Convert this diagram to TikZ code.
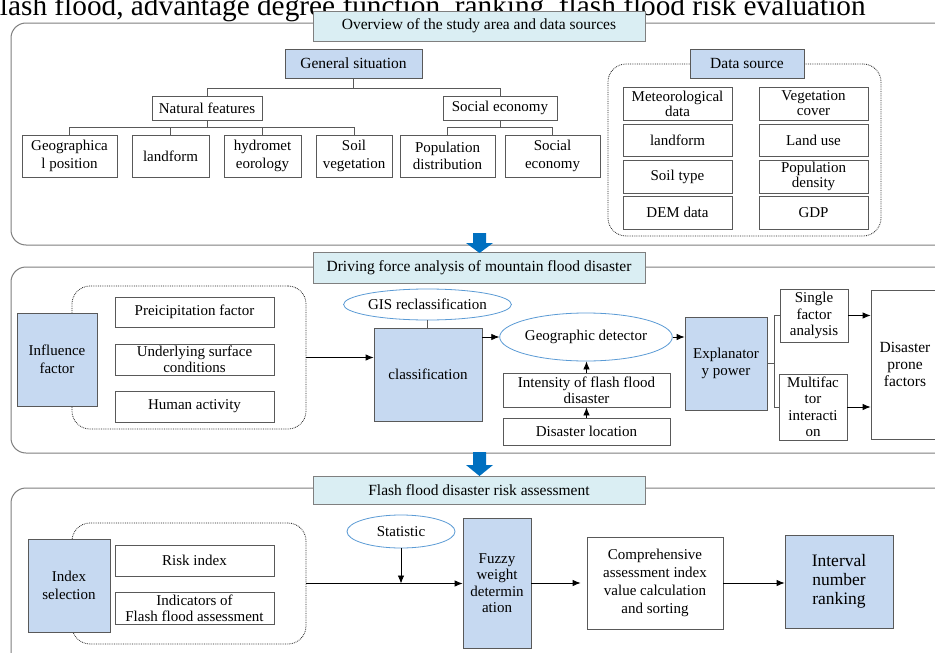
\documentclass[tikz,border=0pt]{standalone}
\usepackage{fontspec}
\setmainfont{Liberation Serif}
\usetikzlibrary{shapes.geometric,arrows.meta,calc}
\definecolor{titlefill}{HTML}{DAEEF3}
\definecolor{bluefill}{HTML}{C6D9F1}
\definecolor{edge}{HTML}{595959}
\definecolor{secedge}{HTML}{7F7F7F}
\definecolor{ellipseedge}{HTML}{5B9BD5}
\definecolor{bigarrow}{HTML}{0070C0}
\begin{document}
\begin{tikzpicture}[x=1pt,y=-1pt,
  box/.style={draw=edge, line width=0.8pt, fill=white, align=center, inner sep=1pt, font=\fontsize{15}{17.5}\selectfont},
  dbox/.style={box, font=\fontsize{15}{15}\selectfont, minimum width=109},
  bbox/.style={box, fill=bluefill},
  tbox/.style={box, fill=titlefill, draw=secedge, minimum width=332, font=\fontsize{15.5}{18}\selectfont},
  ebox/.style={ellipse, draw=ellipseedge, line width=0.8pt, fill=white, inner sep=0pt, align=center, font=\fontsize{15}{17.5}\selectfont},
  dotbox/.style={draw=black!85, densely dotted, line width=0.8pt, rounded corners=18pt, inner sep=0pt},
  section/.style={draw=secedge, line width=1pt, rounded corners=15pt},
  arr/.style={draw=black, -{Latex[length=8pt,width=6.5pt]}, line width=0.8pt},
  link/.style={draw=edge, line width=0.8pt}
]
\useasboundingbox (0,0) rectangle (935,653);
\clip (0,0) rectangle (935,653);
\fill[white] (0,0) rectangle (935,653);

% cut-off heading
\node[anchor=base west, font=\fontsize{29.3}{31}\selectfont, inner sep=0pt] (ttl) at (-10,15.5) {flash flood, advantage degree function, ranking, flash flood risk evaluation};

% ---------------- Section 1
\draw[section] (11,23) rectangle (950,245);
\node[tbox, minimum height=30] (t1) at (479,26) {Overview of the study area and data sources};
\node[bbox, minimum width=137, minimum height=29, font=\fontsize{15.5}{18}\selectfont] (gs) at (353.5,63.5) {General situation};
\node[box, minimum width=110, minimum height=24] (nf) at (207,108) {Natural features};
\node[box, minimum width=114, minimum height=24] (se) at (500,108) {Social economy};
\node[box, minimum width=95, minimum height=42] (g1) at (69.5,156) {Geographica\\l position};
\node[box, minimum width=77, minimum height=42] (g2) at (170.5,156) {landform};
\node[box, minimum width=77, minimum height=42] (g3) at (262.5,156) {hydromet\\eorology};
\node[box, minimum width=76, minimum height=42] (g4) at (354,156) {Soil\\vegetation};
\node[box, minimum width=95, minimum height=42] (s1) at (447.5,156) {Population\\distribution};
\node[box, minimum width=95, minimum height=42] (s2) at (552.5,156) {Social\\economy};

\coordinate (gsj) at ($(gs.south)+(0,10)$);
\draw[link] (gs.south) -- (gsj);
\draw[link] (nf.north) |- (gsj) -| (se.north);
\coordinate (nfj) at ($(nf.south)+(0,7)$);
\draw[link] (nf.south) -- (nfj);
\draw[link] (g1.north) |- (nfj) -| (g4.north);
\draw[link] (g2.north) -- (g2.north |- nfj);
\draw[link] (g3.north) -- (g3.north |- nfj);
\coordinate (sej) at ($(se.south)+(0,7)$);
\draw[link] (se.south) -- (sej);
\draw[link] (s1.north) |- (sej) -| (s2.north);

\node[dotbox, minimum width=273, minimum height=172] (dz1) at (744.5,150) {};
\node[bbox, minimum width=114, minimum height=29, font=\fontsize{15.5}{18}\selectfont] (ds) at (747,63.5) {Data source};
\node[dbox, minimum height=33] (d1) at (677.5,103.5) {Meteorological\\data};
\node[dbox, minimum height=32] (d2) at (677.5,140) {landform};
\node[dbox, minimum height=33] (d3) at (677.5,176.5) {Soil type};
\node[dbox, minimum height=33] (d4) at (677.5,212.5) {DEM data};
\node[dbox, minimum height=33] (d5) at (813.5,103.5) {Vegetation\\cover};
\node[dbox, minimum height=32] (d6) at (813.5,140) {Land use};
\node[dbox, minimum height=33] (d7) at (813.5,176.5) {Population\\density};
\node[dbox, minimum height=33] (d8) at (813.5,212.5) {GDP};

% ---------------- Section 2
\draw[section] (11,267) rectangle (950,453);
\node[tbox, minimum height=31] (t2) at (479,267.5) {Driving force analysis of mountain flood disaster};
\node[dotbox, minimum width=234, minimum height=143] (dz2) at (189,357.5) {};
\node[bbox, minimum width=80, minimum height=93] (inf) at (57,359.5) {Influence\\factor};
\node[box, minimum width=159, minimum height=30] (p1) at (194.5,312) {Preicipitation factor};
\node[box, minimum width=159, minimum height=31, font=\fontsize{15}{16}\selectfont] (p2) at (194.5,359.5) {Underlying surface\\conditions};
\node[box, minimum width=159, minimum height=31] (p3) at (194.5,406.5) {Human activity};
\node[bbox, minimum width=108, minimum height=93] (cls) at (428,374.5) {classification};
\node[ebox, minimum width=157, minimum height=31] (gis) at (427.5,304.5) {GIS reclassification};
\node[ebox, minimum width=160, minimum height=48] (geo) at (586,337) {Geographic detector};
\node[box, minimum width=167, minimum height=34, font=\fontsize{15}{16}\selectfont] (int) at (586.5,390) {Intensity of flash flood\\disaster};
\node[box, minimum width=167, minimum height=27] (loc) at (586.5,431.5) {Disaster location};
\node[bbox, minimum width=82, minimum height=93] (exp) at (726,363.5) {Explanator\\y power};
\node[box, minimum width=68, minimum height=53, font=\fontsize{15}{16.5}\selectfont] (sfa) at (814,315.5) {Single\\factor\\analysis};
\node[box, minimum width=68, minimum height=66, font=\fontsize{15}{16.5}\selectfont] (mfi) at (813,407) {Multifac\\tor\\interacti\\on};
\node[box, minimum width=68, minimum height=149, font=\fontsize{15.5}{17}\selectfont] (dpf) at (905,364.5) {Disaster\\prone\\factors};

\draw[arr] (dz2.east) -- (dz2.east -| cls.west);
\draw[link] (gis.south) -- (gis.south |- cls.north);
\draw[arr] (cls.east |- geo.west) -- (geo.west);
\draw[arr] (loc.north) -- (int.south);
\draw[arr] (int.north) -- (int.north |- geo.south);
\draw[arr] (geo.east) -- (geo.east -| exp.west);
\coordinate (bx) at (774,363.5);
\draw[link] (exp.east) -- (bx);
\draw[link] (sfa.west) -| (bx |- mfi.west) -- (mfi.west);
\draw[arr] (sfa.east) -- (sfa.east -| dpf.west);
\draw[arr] (mfi.east) -- (mfi.east -| dpf.west);

% ---------------- Section 3
\draw[section] (11,488) rectangle (950,680);
\node[tbox, minimum height=28] (t3) at (479,490) {Flash flood disaster risk assessment};
\node[dotbox, minimum width=234, minimum height=121] (dz3) at (189,583.5) {};
\node[bbox, minimum width=82, minimum height=93] (idx) at (69,585.5) {Index\\selection};
\node[box, minimum width=159, minimum height=31] (ri) at (194.5,560.5) {Risk index};
\node[box, minimum width=159, minimum height=32, font=\fontsize{15}{16}\selectfont] (ind) at (194.5,608) {Indicators of\\Flash flood assessment};
\node[ebox, minimum width=108, minimum height=33] (stat) at (401,531.5) {Statistic};
\node[bbox, minimum width=68, minimum height=130, font=\fontsize{15}{16.5}\selectfont] (fz) at (497,583) {Fuzzy\\weight\\determin\\ation};
\node[box, minimum width=136, minimum height=92, font=\fontsize{15}{18}\selectfont] (cmp) at (655,583) {Comprehensive\\assessment index\\value calculation\\and sorting};
\node[bbox, minimum width=108, minimum height=93, font=\fontsize{17.5}{19}\selectfont] (ivl) at (839,581.5) {Interval\\number\\ranking};

\draw[arr] (dz3.east) -- (dz3.east -| fz.west);
\draw[arr] (stat.south) -- (stat.south |- dz3.east);
\draw[arr, shorten >=6pt] (fz.east) -- (fz.east -| cmp.west);
\draw[arr] (cmp.east) -- (cmp.east -| ivl.west);

% ---------------- big blue arrows
\fill[bigarrow] (473,233) -- (486,233) -- (486,243) -- (493,243) -- (479.5,253) -- (466,243) -- (473,243) -- cycle;
\fill[bigarrow] (473,452) -- (486,452) -- (486,465) -- (493,465) -- (479.5,476) -- (466,465) -- (473,465) -- cycle;
\end{tikzpicture}
\end{document}
